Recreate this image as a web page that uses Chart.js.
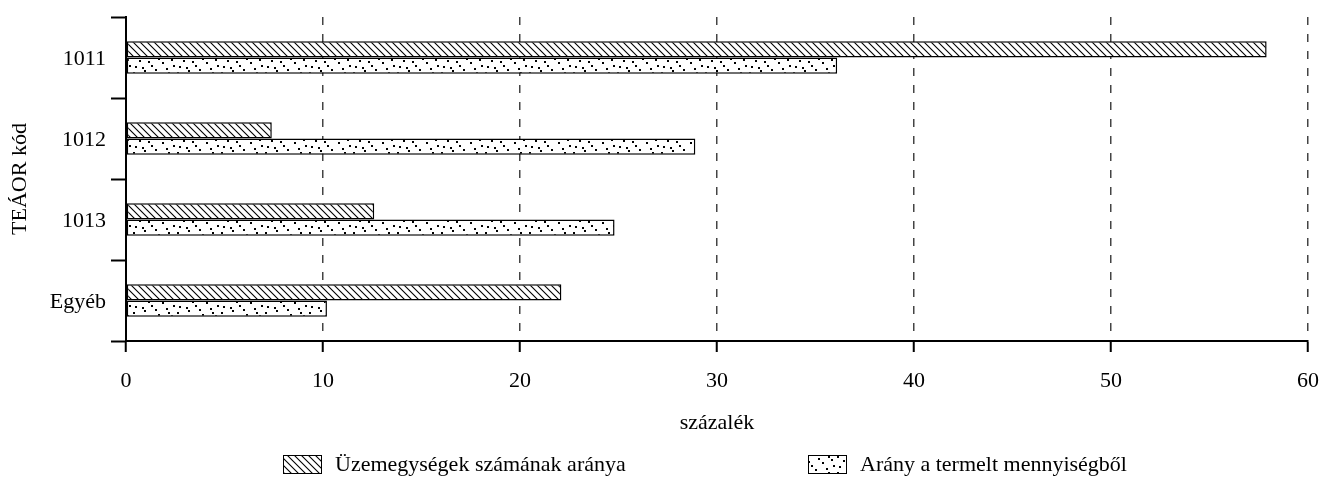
<!DOCTYPE html>
<html><head><meta charset="utf-8">
<script src="https://cdn.jsdelivr.net/npm/chart.js@4.4.0/dist/chart.umd.min.js"></script>
<style>html,body{margin:0;padding:0;background:#fff}#wrap{width:1322px;height:477px}</style>
</head><body><div id="wrap"><canvas id="c" width="1322" height="477"></canvas></div>
<script>
const categories = ['1011', '1012', '1013', 'Egyéb'];
const seriesNames = ['Üzemegységek számának aránya', 'Arány a termelt mennyiségből'];
const uzemegysegShare = [57.9, 7.4, 12.6, 22.1];
const productionShare = [36.1, 28.9, 24.8, 10.2];
const xTickValues = [0, 10, 20, 30, 40, 50, 60];
const xTitle = 'százalék';
const yTitle = 'TEÁOR kód';

const FONT = 'Liberation Serif';

function hatchPattern() {
  const s = 7, c = document.createElement('canvas');
  c.width = s; c.height = s;
  const g = c.getContext('2d');
  g.fillStyle = '#fff'; g.fillRect(0, 0, s, s);
  g.strokeStyle = '#000'; g.lineWidth = 1.1;
  g.beginPath();
  g.moveTo(-1, -1); g.lineTo(s + 1, s + 1);
  g.moveTo(-1, s - 1); g.lineTo(1, s + 1);
  g.moveTo(s - 1, -1); g.lineTo(s + 1, 1);
  g.stroke();
  return g.createPattern(c, 'repeat');
}
function dotPattern() {
  const w = 44, h = 16, c = document.createElement('canvas');
  c.width = w; c.height = h;
  const g = c.getContext('2d');
  g.fillStyle = '#fff'; g.fillRect(0, 0, w, h);
  g.fillStyle = '#000';
  const dots = [[3,2],[12,6],[19,1],[26,10],[34,4],[7,12],[16,13],[23,5],[30,14],[39,11],[1,8],[41,1],[10,3],[36,8]];
  dots.forEach(([x, y]) => g.fillRect(x, y, 2, 2));
  return g.createPattern(c, 'repeat');
}
const hatch = hatchPattern();
const dots = dotPattern();

const legendPlugin = {
  id: 'customLegend',
  afterDraw(chart) {
    const ctx = chart.ctx;
    ctx.save();
    ctx.font = `22px "${FONT}"`;
    ctx.textBaseline = 'middle';
    const items = [
      {x: 283, fill: hatch, text: seriesNames[0]},
      {x: 808, fill: dots, text: seriesNames[1]}
    ];
    items.forEach(it => {
      ctx.fillStyle = it.fill;
      ctx.fillRect(it.x, 455, 38, 18);
      ctx.strokeStyle = '#000'; ctx.lineWidth = 1;
      ctx.strokeRect(it.x + 0.5, 455.5, 38, 18);
      ctx.fillStyle = '#000';
      ctx.fillText(it.text, it.x + 52, 465);
    });
    ctx.restore();
  }
};

new Chart(document.getElementById('c'), {
  type: 'bar',
  data: {
    labels: categories,
    datasets: [
      {label: seriesNames[0], data: uzemegysegShare, backgroundColor: hatch, borderColor: '#000', borderWidth: 1.5, borderSkipped: false},
      {label: seriesNames[1], data: productionShare, backgroundColor: dots, borderColor: '#000', borderWidth: 1.5, borderSkipped: false}
    ]
  },
  options: {
    indexAxis: 'y',
    responsive: false,
    animation: false,
    devicePixelRatio: 1,
    categoryPercentage: 0.4,
    barPercentage: 1.0,
    layout: {padding: {top: 17, right: 14, bottom: 37, left: 0}},
    plugins: {legend: {display: false}, tooltip: {enabled: false}},
    scales: {
      x: {
        type: 'linear', min: 0, max: 60,
        afterBuildTicks: s => { s.ticks = xTickValues.map(v => ({value: v})); },
        afterFit: s => { s.height = 99; s.paddingLeft = 0; s.paddingRight = 0; },
        ticks: {font: {family: FONT, size: 22}, color: '#000', padding: 16, maxRotation: 0},
        grid: {color: '#444', lineWidth: 1.5, drawOnChartArea: true, drawTicks: true, tickLength: 11, tickColor: '#000', tickWidth: 2, tickBorderDash: [1, 0]},
        border: {display: true, color: '#000', width: 2, dash: [8, 9]},
        title: {display: true, text: xTitle, font: {family: FONT, size: 22}, color: '#000', padding: {top: 4, bottom: 4}}
      },
      y: {
        afterFit: s => { s.width = 126; s.paddingTop = 0; s.paddingBottom = 0; },
        ticks: {font: {family: FONT, size: 22}, color: '#000', padding: 5, labelOffset: 2},
        grid: {drawOnChartArea: false, drawTicks: true, tickLength: 15, tickColor: '#000', tickWidth: 2, offset: true},
        border: {display: true, color: '#000', width: 2},
        title: {display: true, text: yTitle, font: {family: FONT, size: 22}, color: '#000', padding: {top: 7, bottom: 0}}
      }
    }
  },
  plugins: [legendPlugin]
});
</script></body></html>
